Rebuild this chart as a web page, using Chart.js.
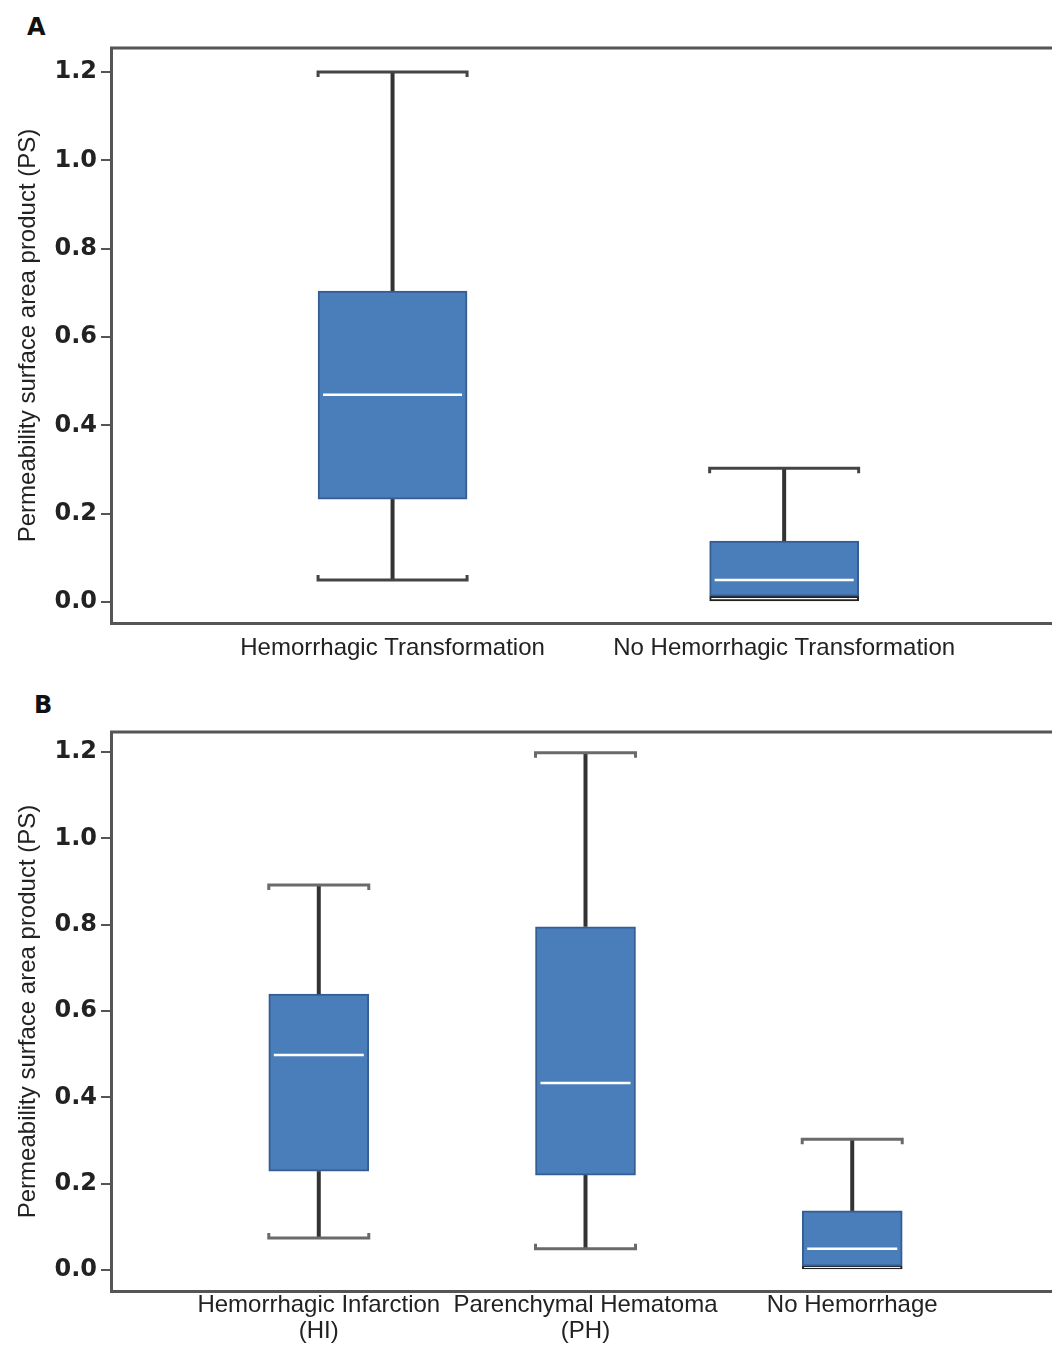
<!DOCTYPE html>
<html lang="en">
<head>
<meta charset="UTF-8">
<title>Permeability surface area product</title>
<script src="https://cdn.jsdelivr.net/npm/chart.js"></script>
<style>
  body { margin: 0; background: #fff; width: 1052px; height: 1345px; overflow: hidden; position: relative; }
  canvas { position: absolute; left: 0; }
  #chartA { top: 0; }
  #chartB { top: 680px; }
  .panel { position: absolute; font-family: "DejaVu Sans"; font-weight: bold; font-size: 24px; line-height: 24px; color: #111; }
</style>
</head>
<body>
<div class="panel" style="left:27px;top:15px">A</div>
<div class="panel" style="left:34px;top:693px">B</div>
<canvas id="chartA" width="1052" height="680"></canvas>
<canvas id="chartB" width="1052" height="665"></canvas>

<script>
// shared y ticks
const yTicks = [0, 0.2, 0.4, 0.6, 0.8, 1.0, 1.2];
const yTitle = 'Permeability surface area product (PS)';

// panel A
const catsA = ['Hemorrhagic Transformation', 'No Hemorrhagic Transformation'];
const minA = [0.05, null];
const q1A = [0.233, 0.013];
const medA = [0.469, 0.05];
const q3A = [0.704, 0.138];
const maxA = [1.2, 0.303];
const zeroBandA = [null, [0.0, 0.013]];

// panel B
const catsB = [['Hemorrhagic Infarction', '(HI)'], ['Parenchymal Hematoma', '(PH)'], 'No Hemorrhage'];
const minB = [0.074, 0.049, null];
const q1B = [0.229, 0.22, 0.009];
const medB = [0.498, 0.433, 0.049];
const q3B = [0.639, 0.795, 0.137];
const maxB = [0.892, 1.198, 0.303];
const zeroBandB = [null, null, [0.0, 0.009]];

// whiskers, caps, medians and the top frame line
const boxExtras = {
  id: 'boxExtras',
  beforeDatasetsDraw(chart) {
    const a = chart.chartArea;
    const ctx = chart.ctx;
    ctx.save();
    ctx.strokeStyle = '#555';
    ctx.lineWidth = 3;
    ctx.beginPath();
    ctx.moveTo(a.left - 1, a.top);
    ctx.lineTo(a.right, a.top);
    ctx.stroke();
    ctx.restore();
  },
  afterDatasetsDraw(chart, args, o) {
    const ctx = chart.ctx;
    const y = chart.scales.y;
    const bars = chart.getDatasetMeta(0).data;
    ctx.save();
    bars.forEach((bar, i) => {
      const cx = bar.x;
      const half = bar.width / 2;
      const ends = [[o.max[i], o.q3[i], 1], [o.min[i], o.q1[i], -1]];
      ends.forEach(([w, q, dir]) => {
        if (w === null) return;
        const yw = y.getPixelForValue(w);
        const yq = y.getPixelForValue(q);
        ctx.strokeStyle = '#333';
        ctx.lineWidth = 4;
        ctx.beginPath();
        ctx.moveTo(cx, yq);
        ctx.lineTo(cx, yw);
        ctx.stroke();
        ctx.strokeStyle = o.capColor;
        ctx.lineWidth = 3;
        ctx.beginPath();
        ctx.moveTo(cx - half, yw + dir * 5);
        ctx.lineTo(cx - half, yw);
        ctx.lineTo(cx + half, yw);
        ctx.lineTo(cx + half, yw + dir * 5);
        ctx.stroke();
      });
      const ym = y.getPixelForValue(o.med[i]);
      ctx.strokeStyle = '#fff';
      ctx.lineWidth = 2.5;
      ctx.beginPath();
      ctx.moveTo(cx - half + 5, ym);
      ctx.lineTo(cx + half - 5, ym);
      ctx.stroke();
    });
    ctx.restore();
  }
};

function makeChart(id, cats, mins, q1s, meds, q3s, maxs, zeroBand, xMin, xMax, yMin, yMax, padTop, xAxisH, barW, capColor, labelPad) {
  return new Chart(document.getElementById(id), {
    type: 'bar',
    data: {
      datasets: [
        {
          data: cats.map((c, i) => ({ x: i, y: [q1s[i], q3s[i]] })),
          backgroundColor: '#4a7ebb',
          borderColor: '#345d94',
          borderWidth: 2,
          borderSkipped: false,
          barThickness: barW,
          grouped: false
        },
        {
          data: zeroBand.map((b, i) => (b ? { x: i, y: b } : null)).filter(d => d),
          backgroundColor: '#fff',
          borderColor: '#222',
          borderWidth: 2,
          borderSkipped: false,
          barThickness: barW,
          grouped: false
        }
      ]
    },
    options: {
      responsive: false,
      animation: false,
      events: [],
      layout: { padding: { top: padTop, left: 0, right: 0, bottom: 0 } },
      plugins: {
        legend: { display: false },
        tooltip: { enabled: false },
        boxExtras: { min: mins, q1: q1s, med: meds, q3: q3s, max: maxs, capColor: capColor }
      },
      scales: {
        x: {
          type: 'linear',
          offset: false,
          min: xMin,
          max: xMax,
          afterBuildTicks: s => { s.ticks = cats.map((c, i) => ({ value: i })); },
          afterFit: s => { s.height = xAxisH; },
          ticks: {
            callback: v => cats[v],
            autoSkip: false,
            maxRotation: 0,
            padding: labelPad,
            color: '#222',
            font: { family: 'Liberation Sans', size: 24, lineHeight: 1.08 }
          },
          grid: { display: false, drawTicks: false },
          border: { display: true, color: '#555', width: 3 }
        },
        y: {
          min: yMin,
          max: yMax,
          afterBuildTicks: s => { s.ticks = yTicks.map(v => ({ value: v })); },
          afterFit: s => { s.width = 111; },
          ticks: {
            callback: v => v.toFixed(1),
            padding: 4,
            color: '#222',
            font: { family: 'DejaVu Sans', weight: 'bold', size: 24 }
          },
          grid: { drawOnChartArea: false, tickLength: 10, color: '#555', lineWidth: 2 },
          border: { color: '#555', width: 3 },
          title: {
            display: true,
            text: yTitle,
            color: '#222',
            font: { family: 'Liberation Sans', size: 24 },
            padding: { top: 14, bottom: 0 }
          }
        }
      }
    },
    plugins: [boxExtras]
  });
}

makeChart('chartA', catsA, minA, q1A, medA, q3A, maxA, zeroBandA,
  -0.719, 1.684, -0.0475, 1.2543, 48, 57, 149, '#444', 12);
makeChart('chartB', catsB, minB, q1B, medB, q3B, maxB, zeroBandB,
  -0.779, 2.749, -0.0486, 1.2463, 52, 54, 100, '#6a6a6a', 1);
</script>
</body>
</html>
